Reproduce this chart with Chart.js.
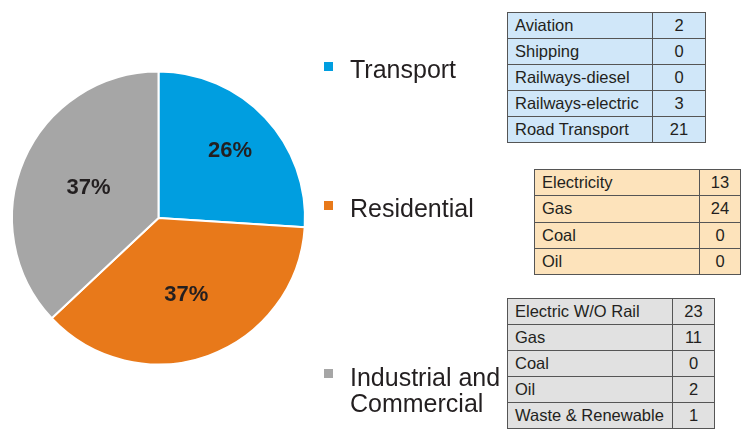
<!DOCTYPE html>
<html>
<head>
<meta charset="utf-8">
<script src="https://cdn.jsdelivr.net/npm/chart.js@4.4.1/dist/chart.umd.min.js"></script>
<style>
  html, body { margin:0; padding:0; background:#fff; }
  #wrap { position:relative; width:752px; height:441px; overflow:hidden; font-family:"Liberation Sans", Arial, sans-serif; color:#231f20; }
  #c { position:absolute; left:0; top:0; }
  .leg { position:absolute; font-size:25px; line-height:26px; color:#231f20; }
  .sw { position:absolute; width:9px; height:9px; }
  table { position:absolute; border-collapse:collapse; font-size:16.5px; color:#231f20; }
  td { border:1px solid #555; height:25px; padding:0 0 0 7px; box-sizing:border-box; line-height:25px; white-space:nowrap; }
  td.v { text-align:center; padding:0; }
</style>
</head>
<body>
<div id="wrap">
  <canvas id="c" width="752" height="441"></canvas>
</div>
<script>
const categories = ["Transport", "Residential", "Industrial and\nCommercial"];
const shares = [26, 37, 37];
const colors = ["#009ee0", "#e8791a", "#a6a6a6"];

const transportItems = ["Aviation", "Shipping", "Railways-diesel", "Railways-electric", "Road Transport"];
const transportValues = [2, 0, 0, 3, 21];
const residentialItems = ["Electricity", "Gas", "Coal", "Oil"];
const residentialValues = [13, 24, 0, 0];
const industrialItems = ["Electric W/O Rail", "Gas", "Coal", "Oil", "Waste & Renewable"];
const industrialValues = [23, 11, 0, 2, 1];

// label placement (fraction of radius) per slice
const labelRadius = [0.67, 0.56, 0.52];

const pctLabels = {
  id: 'pctLabels',
  afterDatasetsDraw(chart) {
    const ctx = chart.ctx;
    const meta = chart.getDatasetMeta(0);
    const total = shares.reduce((a,b)=>a+b,0);
    ctx.save();
    ctx.font = 'bold 22px "Liberation Sans", Arial, sans-serif';
    ctx.fillStyle = '#231f20';
    ctx.textAlign = 'center';
    ctx.textBaseline = 'middle';
    meta.data.forEach((arc, i) => {
      const p = arc.getProps(['x','y','startAngle','endAngle','outerRadius'], true);
      const mid = (p.startAngle + p.endAngle) / 2;
      const r = p.outerRadius * labelRadius[i];
      const x = p.x + Math.cos(mid) * r;
      const y = p.y + Math.sin(mid) * r;
      ctx.fillText(Math.round(shares[i] / total * 100) + '%', x, y);
    });
    ctx.restore();
  }
};

new Chart(document.getElementById('c'), {
  type: 'pie',
  data: {
    labels: categories,
    datasets: [{
      data: shares,
      backgroundColor: colors,
      borderColor: '#ffffff',
      borderWidth: 2
    }]
  },
  options: {
    responsive: false,
    animation: false,
    layout: { padding: { left: 11, top: 70, right: 446, bottom: 75 } },
    plugins: { legend: { display: false }, tooltip: { enabled: false } }
  },
  plugins: [pctLabels]
});

// legend
const wrap = document.getElementById('wrap');
const legendPos = [
  { sx: 324, sy: 62, tx: 350, ty: 56 },
  { sx: 324, sy: 201, tx: 350, ty: 195 },
  { sx: 324, sy: 369, tx: 350, ty: 364 }
];
categories.forEach((name, i) => {
  const s = document.createElement('div');
  s.className = 'sw';
  s.style.left = legendPos[i].sx + 'px';
  s.style.top = legendPos[i].sy + 'px';
  s.style.background = colors[i];
  wrap.appendChild(s);
  const t = document.createElement('div');
  t.className = 'leg';
  t.style.left = legendPos[i].tx + 'px';
  t.style.top = legendPos[i].ty + 'px';
  t.innerHTML = name.split('\n').join('<br>');
  wrap.appendChild(t);
});

// tables
function makeTable(items, values, left, top, w1, w2, bg, rowH) {
  const tb = document.createElement('table');
  tb.style.left = left + 'px';
  tb.style.top = top + 'px';
  tb.style.background = bg;
  items.forEach((it, i) => {
    const tr = document.createElement('tr');
    const a = document.createElement('td');
    a.textContent = it;
    a.style.width = w1 + 'px';
    a.style.height = rowH + 'px';
    const b = document.createElement('td');
    b.className = 'v';
    b.textContent = values[i];
    b.style.width = w2 + 'px';
    b.style.height = rowH + 'px';
    tr.appendChild(a); tr.appendChild(b);
    tb.appendChild(tr);
  });
  wrap.appendChild(tb);
}
makeTable(transportItems, transportValues, 507, 12, 145, 53, '#d0e7f9', 26);
makeTable(residentialItems, residentialValues, 534, 169, 165, 41, '#fde3bb', 26.25);
makeTable(industrialItems, industrialValues, 507, 298, 165, 42, '#e1e1e1', 26);
</script>
</body>
</html>
